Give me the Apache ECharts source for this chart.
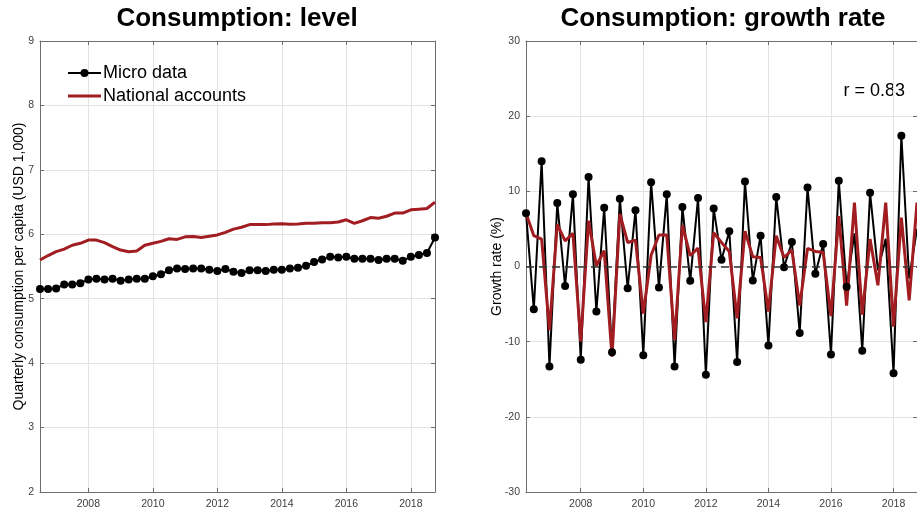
<!DOCTYPE html>
<html><head><meta charset="utf-8">
<script src="https://cdn.jsdelivr.net/npm/echarts@6/dist/echarts.min.js"></script>
<style>html,body{margin:0;padding:0;background:#fff}#c{width:917px;height:511px}</style>
</head><body><div id="c"></div>
<script>
// ---- data ----
const levelDates = [2006.5,2006.75,2007,2007.25,2007.5,2007.75,2008,2008.25,2008.5,2008.75,
  2009,2009.25,2009.5,2009.75,2010,2010.25,2010.5,2010.75,2011,2011.25,
  2011.5,2011.75,2012,2012.25,2012.5,2012.75,2013,2013.25,2013.5,2013.75,
  2014,2014.25,2014.5,2014.75,2015,2015.25,2015.5,2015.75,2016,2016.25,
  2016.5,2016.75,2017,2017.25,2017.5,2017.75,2018,2018.25,2018.5,2018.75];
const microLevel = [5.15,5.15,5.16,5.22,5.22,5.24,5.30,5.31,5.30,5.31,
  5.28,5.30,5.31,5.31,5.35,5.38,5.44,5.47,5.46,5.47,
  5.47,5.45,5.43,5.46,5.42,5.40,5.44,5.44,5.43,5.45,
  5.45,5.47,5.48,5.51,5.57,5.61,5.65,5.64,5.65,5.62,
  5.62,5.62,5.60,5.62,5.62,5.59,5.65,5.68,5.71,5.95];
const nationalLevel = [5.60,5.67,5.73,5.77,5.83,5.86,5.91,5.91,5.87,5.81,
  5.755,5.73,5.74,5.83,5.86,5.89,5.93,5.92,5.96,5.965,
  5.95,5.97,5.99,6.03,6.08,6.11,6.15,6.15,6.15,6.16,
  6.165,6.155,6.16,6.17,6.17,6.18,6.18,6.19,6.225,6.17,
  6.21,6.26,6.25,6.28,6.33,6.33,6.38,6.39,6.40,6.50];
const growthDates = [2006.25,2006.5,2006.75,2007,2007.25,2007.5,2007.75,2008,2008.25,2008.5,2008.75,
  2009,2009.25,2009.5,2009.75,2010,2010.25,2010.5,2010.75,2011,2011.25,
  2011.5,2011.75,2012,2012.25,2012.5,2012.75,2013,2013.25,2013.5,2013.75,
  2014,2014.25,2014.5,2014.75,2015,2015.25,2015.5,2015.75,2016,2016.25,
  2016.5,2016.75,2017,2017.25,2017.5,2017.75,2018,2018.25,2018.5,2018.75];
const microGrowth = [7.1,-5.7,14.0,-13.3,8.45,-2.6,9.6,-12.4,11.9,-6.0,
  7.8,-11.4,9.0,-2.9,7.5,-11.8,11.2,-2.8,9.6,-13.3,
  7.9,-1.9,9.1,-14.4,7.7,0.9,4.7,-12.7,11.3,-1.85,
  4.1,-10.5,9.25,-0.1,3.26,-8.85,10.5,-0.97,3.0,-11.7,
  11.4,-2.7,4.4,-11.2,9.8,-0.5,3.7,-14.2,17.4,-1.6,5.0];
const nationalGrowth = [7.1,4.1,3.65,-8.45,5.6,3.4,4.4,-10.0,6.1,0.1,
  2.1,-12.0,7.0,3.2,3.5,-6.25,1.5,4.2,4.2,-9.8,
  5.5,1.45,2.45,-7.4,4.5,3.2,2.0,-6.9,4.7,1.3,
  1.2,-6.0,4.1,1.2,2.2,-5.2,2.4,2.0,1.9,-6.6,
  6.7,-5.2,8.5,-6.4,3.65,-2.5,8.5,-8.0,6.5,-4.5,8.5];
const yearTicks = [2008,2010,2012,2014,2016,2018];
const titles = ['Consumption: level','Consumption: growth rate'];
const yNames = ['Quarterly consumption per capita (USD 1,000)','Growth rate (%)'];
const seriesNames = ['Micro data','National accounts'];
const corrText = 'r = 0.83';

// ---- style ----
const FF = '"Liberation Sans", Arial, sans-serif';
const AX = '#6e6e6e', LBL = '#404040', GRIDC = '#e3e3e3', RED = '#a11d21';
const hiddenMarkers = [42,45,46,49,50];

function pairs(xs, ys){ return xs.map((x,i)=>[x, ys[i]]); }

function xAx(gridIndex, min, max, pos){
  const bottom = pos === 'bottom';
  return {type:'value', gridIndex, min, max, position:pos,
    axisLine:{show:true, onZero:false, lineStyle:{color:AX, width:1}},
    axisTick:{show:true, inside:true, length:4, customValues:yearTicks, lineStyle:{color:AX}},
    axisLabel:{show:bottom, customValues:yearTicks, formatter:(v)=>String(v),
      color:LBL, fontSize:10.5, margin:7, fontFamily:FF},
    splitLine:{show:bottom, lineStyle:{color:GRIDC, width:1}}};
}
function yAx(gridIndex, min, max, interval, pos, name, gap){
  const left = pos === 'left';
  return {type:'value', gridIndex, min, max, interval, position:pos,
    name: left ? name : '', nameLocation:'middle', nameGap:gap, nameRotate:90,
    nameMoveOverlap:false,
    nameTextStyle:{fontSize:14, color:'#000', fontFamily:FF},
    axisLine:{show:true, onZero:false, lineStyle:{color:AX, width:1}},
    axisTick:{show:true, inside:true, length:4, lineStyle:{color:AX}},
    axisLabel:{show:left, color:LBL, fontSize:10.5, margin:6, fontFamily:FF},
    splitLine:{show:left, lineStyle:{color:GRIDC, width:1}}};
}

const chart = echarts.init(document.getElementById('c'), null, {renderer:'canvas'});
chart.setOption({
  animation:false,
  backgroundColor:'#fff',
  title:[
    {text:titles[0], left:237, top:6, textAlign:'center', padding:0,
     textStyle:{fontSize:26, fontWeight:'bold', color:'#000', fontFamily:FF}},
    {text:titles[1], left:723, top:6, textAlign:'center', padding:0,
     textStyle:{fontSize:26, fontWeight:'bold', color:'#000', fontFamily:FF}}
  ],
  grid:[
    {left:40, top:41, width:395, height:451},
    {left:526, top:41, width:394, height:451}
  ],
  legend:{data:[{name:seriesNames[0]},
                {name:seriesNames[1], icon:'path://M0,0H33V3H0Z'}],
    orient:'vertical', left:67, top:64, padding:0,
    itemWidth:33, itemHeight:10, itemGap:5, selectedMode:false, symbolKeepAspect:true,
    textStyle:{fontSize:18, color:'#000', fontFamily:FF, padding:[0,0,0,-3]}},
  xAxis:[ xAx(0,2006.5,2018.75,'bottom'), xAx(0,2006.5,2018.75,'top'),
          xAx(1,2006.25,2018.75,'bottom'), xAx(1,2006.25,2018.75,'top') ],
  yAxis:[ yAx(0,2,9,1,'left',yNames[0],14), yAx(0,2,9,1,'right','',0),
          yAx(1,-30,30,10,'left',yNames[1],22), yAx(1,-30,30,10,'right','',0) ],
  graphic:[{type:'text', right:12, top:82,
    style:{text:corrText, fontSize:18, fill:'#000', fontFamily:FF}}],
  series:[
    {name:seriesNames[0], type:'line', xAxisIndex:0, yAxisIndex:0, data:pairs(levelDates, microLevel),
     symbol:'circle', symbolSize:8, showSymbol:true, clip:false,
     itemStyle:{color:'#000'}, lineStyle:{color:'#000', width:2}},
    {name:seriesNames[1], type:'line', xAxisIndex:0, yAxisIndex:0, data:pairs(levelDates, nationalLevel),
     symbol:'none', clip:false, itemStyle:{color:RED}, lineStyle:{color:RED, width:3}},
    {name:'Micro growth', type:'line', xAxisIndex:2, yAxisIndex:2, data:pairs(growthDates, microGrowth),
     symbol:'circle', clip:false,
     symbolSize:(v,p)=> hiddenMarkers.includes(p.dataIndex) ? 0 : 8,
     itemStyle:{color:'#000'}, lineStyle:{color:'#000', width:2},
     markLine:{silent:true, symbol:'none', label:{show:false},
       lineStyle:{color:'#333', type:[8,5], width:1.5}, data:[{yAxis:0}]}},
    {name:'National growth', type:'line', xAxisIndex:2, yAxisIndex:2, data:pairs(growthDates, nationalGrowth),
     symbol:'none', clip:true, itemStyle:{color:RED}, lineStyle:{color:RED, width:3}}
  ]
});
</script></body></html>
